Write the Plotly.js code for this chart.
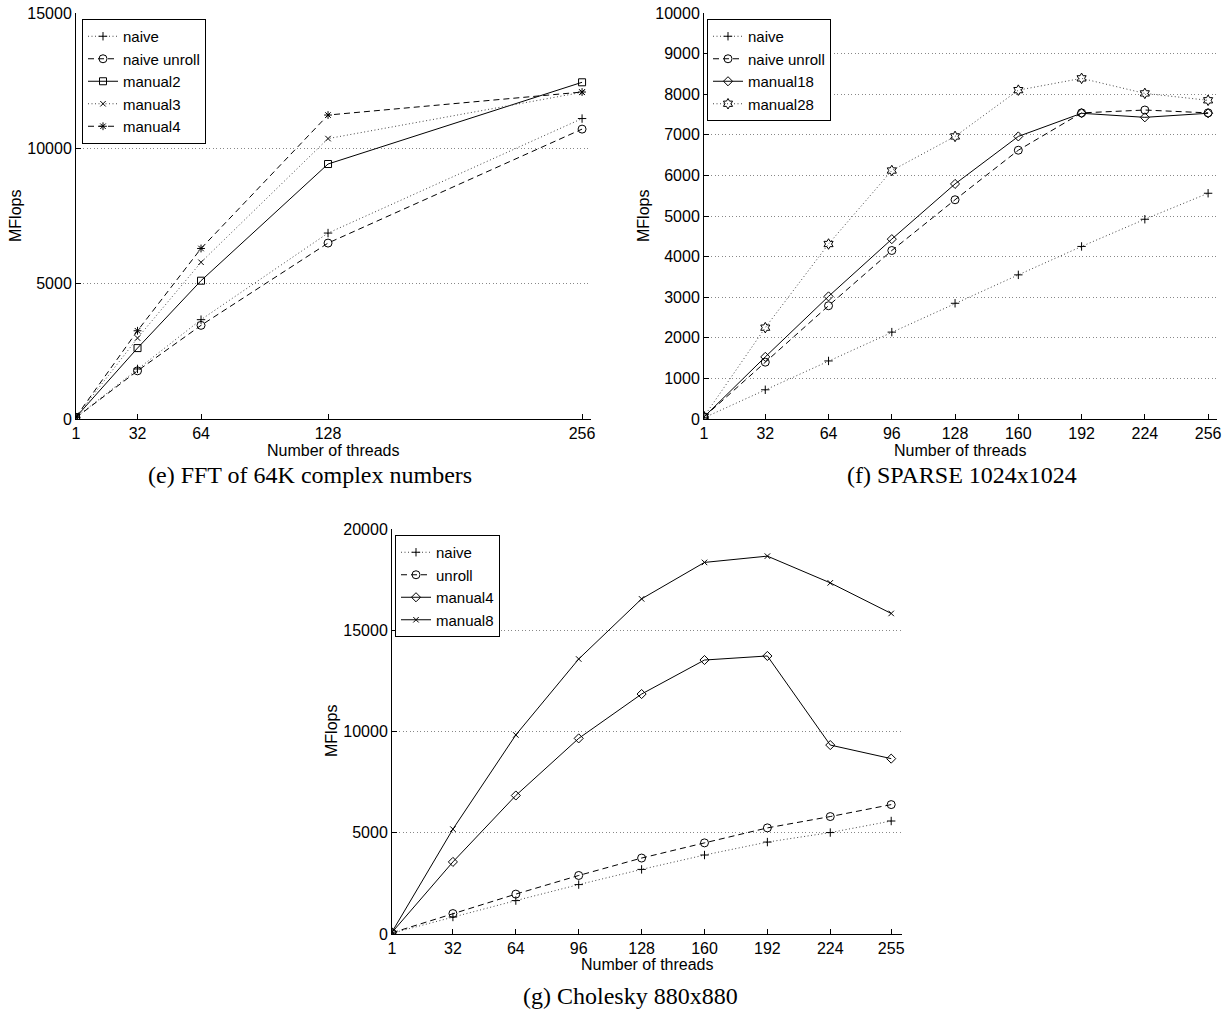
<!DOCTYPE html>
<html>
<head>
<meta charset="utf-8">
<script src="https://cdn.plot.ly/plotly-3.0.1.min.js"></script>
<style>html,body{margin:0;padding:0;background:#fff;}#chart{width:1226px;height:1017px;}</style>
</head>
<body>
<div id="chart"></div>
<script>
// ---- Panel (e) FFT of 64K complex numbers ----
const fftThreads = [1, 32, 64, 128, 256];
const fftNaive = [60, 1850, 3670, 6870, 11100];
const fftNaiveUnroll = [50, 1780, 3460, 6500, 10710];
const fftManual2 = [70, 2620, 5110, 9420, 12440];
const fftManual3 = [70, 2990, 5790, 10360, 12070];
const fftManual4 = [80, 3260, 6300, 11230, 12080];
const fftTicks = [1, 32, 64, 128, 256];

// ---- Panel (f) SPARSE 1024x1024 ----
const spThreads = [1, 32, 64, 96, 128, 160, 192, 224, 256];
const spNaive = [30, 720, 1430, 2140, 2850, 3550, 4250, 4920, 5560];
const spNaiveUnroll = [50, 1400, 2790, 4150, 5400, 6620, 7540, 7610, 7540];
const spManual18 = [50, 1530, 3020, 4430, 5790, 6960, 7530, 7430, 7530];
const spManual28 = [60, 2250, 4310, 6120, 6960, 8100, 8390, 8020, 7850];
const spTicks = [1, 32, 64, 96, 128, 160, 192, 224, 256];

// ---- Panel (g) Cholesky 880x880 ----
const chThreads = [1, 32, 64, 96, 128, 160, 192, 224, 255];
const chNaive = [40, 840, 1650, 2440, 3190, 3900, 4540, 5010, 5580];
const chUnroll = [60, 1010, 1970, 2890, 3750, 4500, 5240, 5800, 6390];
const chManual4 = [80, 3560, 6840, 9660, 11850, 13530, 13730, 9330, 8660];
const chManual8 = [100, 5180, 9830, 13580, 16550, 18350, 18660, 17340, 15830];
const chTicks = [1, 32, 64, 96, 128, 160, 192, 224, 255];

const W = 1226, H = 1017;
const px = v => v / W;
const py = v => 1 - v / H;

const DOT = '1px,2.5px';
const DASH = '6px,4px';
const SYMSIZE = {'cross-thin-open': 6, 'x-thin-open': 5.5, 'asterisk-open': 6.5,
  'circle-open': 8, 'square-open': 7, 'diamond-open': 7, 'hexagram-open': 8};

function tr(x, y, name, sym, dash, xa, ya, leg) {
  const dotted = dash === DOT;
  return {
    type: 'scatter', mode: 'lines+markers', x: x, y: y, name: name,
    xaxis: xa, yaxis: ya, legend: leg,
    line: {color: dotted ? '#444' : '#000', width: 1, dash: dash},
    marker: {symbol: sym, size: SYMSIZE[sym], color: '#000', line: {color: '#000', width: 1}}
  };
}

const traces = [
  tr(fftThreads, fftNaive, 'naive', 'cross-thin-open', DOT, 'x', 'y', 'legend'),
  tr(fftThreads, fftNaiveUnroll, 'naive unroll', 'circle-open', DASH, 'x', 'y', 'legend'),
  tr(fftThreads, fftManual2, 'manual2', 'square-open', 'solid', 'x', 'y', 'legend'),
  tr(fftThreads, fftManual3, 'manual3', 'x-thin-open', DOT, 'x', 'y', 'legend'),
  tr(fftThreads, fftManual4, 'manual4', 'asterisk-open', DASH, 'x', 'y', 'legend'),

  tr(spThreads, spNaive, 'naive', 'cross-thin-open', DOT, 'x2', 'y2', 'legend2'),
  tr(spThreads, spNaiveUnroll, 'naive unroll', 'circle-open', DASH, 'x2', 'y2', 'legend2'),
  tr(spThreads, spManual18, 'manual18', 'diamond-open', 'solid', 'x2', 'y2', 'legend2'),
  tr(spThreads, spManual28, 'manual28', 'hexagram-open', DOT, 'x2', 'y2', 'legend2'),

  tr(chThreads, chNaive, 'naive', 'cross-thin-open', DOT, 'x3', 'y3', 'legend3'),
  tr(chThreads, chUnroll, 'unroll', 'circle-open', DASH, 'x3', 'y3', 'legend3'),
  tr(chThreads, chManual4, 'manual4', 'diamond-open', 'solid', 'x3', 'y3', 'legend3'),
  tr(chThreads, chManual8, 'manual8', 'x-thin-open', 'solid', 'x3', 'y3', 'legend3')
];

const SANS = 'Liberation Sans, Arial, Helvetica, sans-serif';
const tickFont = {family: SANS, size: 16, color: '#000'};

function xax(dom, ticks, anchor) {
  return {
    domain: dom, range: [1, 260.5], anchor: anchor,
    tickmode: 'array', tickvals: ticks, ticktext: ticks.map(String),
    ticks: 'inside', ticklen: 5, tickcolor: '#000',
    showline: true, linecolor: '#000', linewidth: 1,
    showgrid: false, zeroline: false, tickfont: tickFont
  };
}
function yax(dom, max, dtick, anchor) {
  return {
    domain: dom, range: [0, max], anchor: anchor,
    tickmode: 'linear', tick0: 0, dtick: dtick,
    ticks: 'inside', ticklen: 5, tickcolor: '#000',
    showline: true, linecolor: '#000', linewidth: 1,
    showgrid: true, gridcolor: '#888', griddash: DOT, gridwidth: 1,
    zeroline: false, tickfont: tickFont, tickformat: 'd'
  };
}

const legStyle = (x, y) => ({
  x: px(x), y: py(y), xanchor: 'left', yanchor: 'top',
  bgcolor: '#fff', bordercolor: '#000', borderwidth: 1,
  font: {family: SANS, size: 15, color: '#000'},
  tracegroupgap: 0, itemwidth: 30
});

const labFont = {family: SANS, size: 16, color: '#000'};
const capFont = {family: 'Liberation Serif, Times New Roman, serif', size: 24, color: '#000'};

function ann(text, x, y, font, angle) {
  return {text: text, x: px(x), y: py(y), xref: 'paper', yref: 'paper',
    showarrow: false, xanchor: 'center', yanchor: 'middle', font: font, textangle: angle || 0};
}

const layout = {
  width: W, height: H,
  margin: {l: 0, r: 0, t: 0, b: 0},
  paper_bgcolor: '#fff', plot_bgcolor: 'rgba(0,0,0,0)',
  xaxis: xax([px(76), px(591)], fftTicks, 'y'),
  yaxis: yax([py(419), py(13)], 15000, 5000, 'x'),
  xaxis2: xax([px(704), px(1217)], spTicks, 'y2'),
  yaxis2: yax([py(419), py(13)], 10000, 1000, 'x2'),
  xaxis3: xax([px(392), px(902)], chTicks, 'y3'),
  yaxis3: yax([py(934), py(529)], 20000, 5000, 'x3'),
  legend: legStyle(82, 19),
  legend2: legStyle(707, 19),
  legend3: legStyle(395, 535),
  showlegend: true,
  annotations: [
    ann('Number of threads', 333, 450, labFont),
    ann('MFlops', 15, 216, labFont, -90),
    ann('(e) FFT of 64K complex numbers', 310, 475, capFont),
    ann('Number of threads', 960, 450, labFont),
    ann('MFlops', 643, 216, labFont, -90),
    ann('(f) SPARSE 1024x1024', 962, 475, capFont),
    ann('Number of threads', 647, 964, labFont),
    ann('MFlops', 331, 731, labFont, -90),
    ann('(g) Cholesky 880x880', 630, 996, capFont)
  ]
};

Plotly.newPlot('chart', traces, layout, {displayModeBar: false, staticPlot: true});
</script>
</body>
</html>
